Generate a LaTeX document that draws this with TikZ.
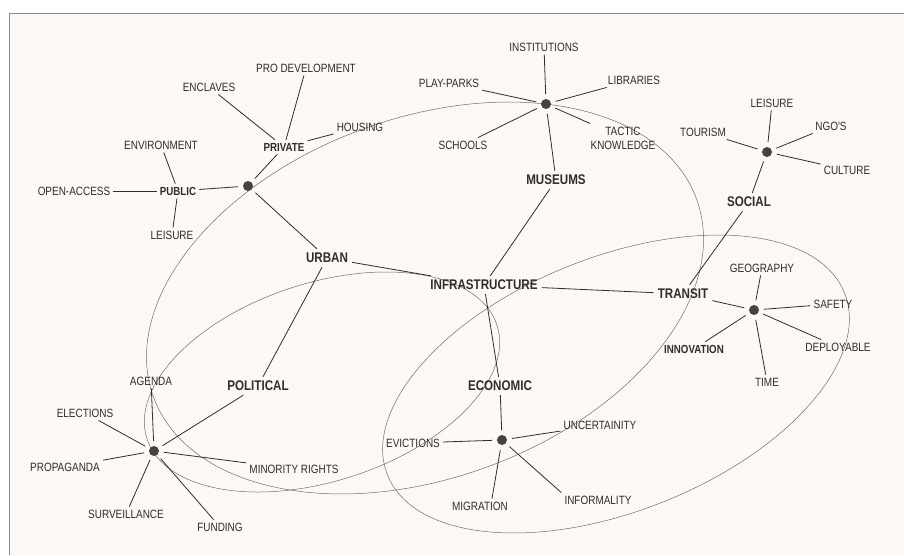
\documentclass[tikz,border=0pt]{standalone}
\usepackage{fontspec}
\newfontfamily\lab{Liberation Sans}[FakeStretch=0.83]
\definecolor{bg}{HTML}{FCF8F5}
\definecolor{ink}{HTML}{2E2E2E}
\definecolor{ringc}{HTML}{6E6E6E}
\definecolor{framec}{HTML}{8A8A8A}
\begin{document}
\begin{tikzpicture}[x=1pt,y=1pt,
  lbl/.style={font=\lab\fontsize{12}{14}\selectfont, text=ink, inner sep=3pt},
  mainlbl/.style={font=\lab\bfseries\fontsize{14}{16}\selectfont, text=ink, inner sep=4pt},
  sublbl/.style={font=\lab\bfseries\fontsize{11.7}{14}\selectfont, text=ink, inner sep=3pt},
  hub/.style={circle, fill=ink!90, minimum size=10pt, inner sep=0pt, outer sep=5pt},
  link/.style={draw=ink, line width=0.8pt},
  ringline/.style={draw=ringc, line width=0.5pt}]
\useasboundingbox (0,0) rectangle (904,-555);
\fill[white] (0,0) rectangle (904,-555);
\fill[bg] (9,-13) rectangle (904,-555);
\draw[framec, line width=0.9pt] (9,-555) -- (9,-13) -- (904,-13);

% ellipses
\draw[ringline, rotate around={20:(425,-298)}] (425,-298) ellipse [x radius=289, y radius=180];
\draw[ringline, rotate around={18:(322,-382)}] (322,-382) ellipse [x radius=184, y radius=99];
\draw[ringline, rotate around={21.7:(616,-384)}] (616,-384) ellipse [x radius=246, y radius=127];

% urban cluster
\node[lbl] (prodev) at (306,-68) {PRO DEVELOPMENT};
\node[lbl] (encl) at (209,-87) {ENCLAVES};
\node[lbl] (hous) at (360,-127) {HOUSING};
\node[sublbl] (priv) at (284,-147) {PRIVATE};
\node[lbl] (env) at (161,-145) {ENVIRONMENT};
\node[lbl] (open) at (74,-191) {OPEN-ACCESS};
\node[sublbl] (pub) at (178,-191) {PUBLIC};
\node[lbl] (leisa) at (172,-235) {LEISURE};
\node[hub] (hubu) at (248,-186) {};
\node[mainlbl] (urban) at (327,-258) {URBAN};

% museums cluster
\node[lbl] (inst) at (544,-47) {INSTITUTIONS};
\node[lbl] (lib) at (634,-80) {LIBRARIES};
\node[lbl] (play) at (449,-83) {PLAY-PARKS};
\node[hub] (hubm) at (546,-104) {};
\node[lbl] (sch) at (463,-145) {SCHOOLS};
\node[lbl, align=center] (tact) at (623,-138) {TACTIC\\KNOWLEDGE};
\node[mainlbl] (mus) at (556,-180) {MUSEUMS};

% social cluster
\node[lbl] (leisb) at (772,-103) {LEISURE};
\node[lbl] (ngo) at (831,-126) {NGO'S};
\node[lbl] (tour) at (703,-132) {TOURISM};
\node[lbl] (cult) at (847,-170) {CULTURE};
\node[hub] (hubs) at (767,-152) {};
\node[mainlbl] (social) at (749,-202) {SOCIAL};

% centre
\node[mainlbl] (infra) at (484,-285) {INFRASTRUCTURE};

% transit cluster
\node[mainlbl] (transit) at (683,-294) {TRANSIT};
\node[lbl] (geo) at (762,-268) {GEOGRAPHY};
\node[lbl] (safe) at (833,-304) {SAFETY};
\node[lbl] (depl) at (838,-347) {DEPLOYABLE};
\node[lbl] (time) at (767,-382) {TIME};
\node[sublbl] (innov) at (694,-349) {INNOVATION};
\node[hub] (hubt) at (754,-310) {};

% economic cluster
\node[mainlbl] (econ) at (500,-386) {ECONOMIC};
\node[hub] (hube) at (502,-440) {};
\node[lbl] (unc) at (600,-425) {UNCERTAINITY};
\node[lbl] (inf) at (598,-500) {INFORMALITY};
\node[lbl] (mig) at (480,-506) {MIGRATION};
\node[lbl] (evic) at (413,-443) {EVICTIONS};

% political cluster
\node[mainlbl] (pol) at (258,-386) {POLITICAL};
\node[lbl] (agenda) at (151,-381) {AGENDA};
\node[lbl] (elec) at (85,-413) {ELECTIONS};
\node[lbl] (prop) at (65,-467) {PROPAGANDA};
\node[lbl] (surv) at (126,-514) {SURVEILLANCE};
\node[lbl] (fund) at (220,-527) {FUNDING};
\node[lbl] (minr) at (294,-469) {MINORITY RIGHTS};
\node[hub] (hubp) at (154,-451) {};

% connectors
\draw[link] (priv) -- (encl);
\draw[link] (priv) -- (prodev);
\draw[link] (priv) -- (hous);
\draw[link] (priv) -- (hubu);
\draw[link] (pub) -- (env);
\draw[link] (pub) -- (open);
\draw[link] (pub) -- (leisa);
\draw[link] (pub) -- (hubu);
\draw[link] (hubu) -- (urban);
\draw[link] (urban) -- (infra);
\draw[link] (urban) -- (pol);

\draw[link] (hubm) -- (inst);
\draw[link] (hubm) -- (lib);
\draw[link] (hubm) -- (play);
\draw[link] (hubm) -- (sch);
\draw[link] (hubm) -- (tact);
\draw[link] (hubm) -- (mus);
\draw[link] (mus) -- (infra);

\draw[link] (hubs) -- (leisb);
\draw[link] (hubs) -- (ngo);
\draw[link] (hubs) -- (tour);
\draw[link] (hubs) -- (cult);
\draw[link] (hubs) -- (social);
\draw[link] (social) -- (transit);

\draw[link] (infra) -- (transit);
\draw[link] (transit) -- (hubt);
\draw[link] (hubt) -- (geo);
\draw[link] (hubt) -- (safe);
\draw[link] (hubt) -- (depl);
\draw[link] (hubt) -- (time);
\draw[link] (hubt) -- (innov);

\draw[link] (infra) -- (econ);
\draw[link] (econ) -- (hube);
\draw[link] (hube) -- (unc);
\draw[link] (hube) -- (inf.north west);
\draw[link] (hube) -- ([xshift=12]mig.north);
\draw[link] (hube) -- (evic);

\draw[link] (hubp) -- (pol);
\draw[link] (hubp) -- (agenda);
\draw[link] (hubp) -- (elec);
\draw[link] (hubp) -- (prop);
\draw[link] (hubp) -- (surv);
\draw[link] (hubp) -- (fund);
\draw[link] (hubp) -- (minr);
\end{tikzpicture}
\end{document}
